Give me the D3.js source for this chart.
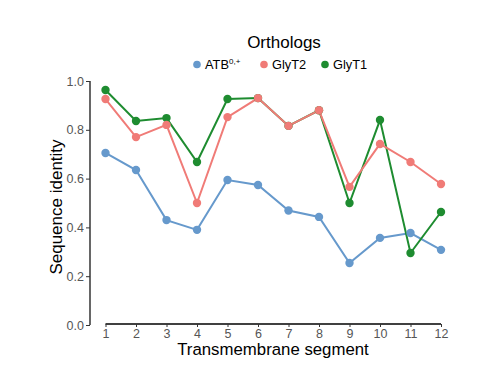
<!DOCTYPE html>
<html>
<head>
<meta charset="utf-8">
<script src="https://cdn.jsdelivr.net/npm/d3@7"></script>
<style>
body{margin:0;background:#fff;}
svg{display:block;font-family:"Liberation Sans",Arial,sans-serif;}
</style>
</head>
<body>
<svg id="chart" width="500" height="366"></svg>
<script>
const segments = [1,2,3,4,5,6,7,8,9,10,11,12];
const atb   = [0.705,0.635,0.43,0.39,0.594,0.574,0.469,0.443,0.254,0.357,0.377,0.308];
const glyt2 = [0.926,0.77,0.82,0.5,0.852,0.93,0.816,0.88,0.566,0.742,0.668,0.578];
const glyt1 = [0.963,0.836,0.848,0.668,0.926,0.93,0.816,0.88,0.5,0.84,0.295,0.463];
const yTicks = [0.0,0.2,0.4,0.6,0.8,1.0];
const seriesNames = ["ATB", "GlyT2", "GlyT1"];
const colors = {ATB:"#6699CC", GlyT2:"#F07B77", GlyT1:"#1E8C30"};

const series = [
  {name:"ATB", values:atb},
  {name:"GlyT2", values:glyt2},
  {name:"GlyT1", values:glyt1}
];

const svg = d3.select("#chart");
const x = d3.scaleLinear().domain([1,12]).range([105.5,441]);
const y = d3.scaleLinear().domain([0,1]).range([325,81]);

// y axis
const yAxis = d3.axisLeft(y).tickValues(yTicks).tickFormat(d3.format(".1f")).tickSize(4).tickPadding(2);
const gy = svg.append("g").attr("transform","translate(90,0)").call(yAxis);
gy.select(".domain").attr("d", `M0,${y(1)}V${y(0)}`).attr("stroke","#000").attr("stroke-width",1.2);
gy.selectAll(".tick line").attr("stroke","#333");
gy.selectAll(".tick text").attr("fill","#555").style("font-size","12.5px");

// x axis
const xAxis = d3.axisBottom(x).tickValues(segments).tickSize(3).tickPadding(2);
const gx = svg.append("g").attr("transform","translate(0,324)").call(xAxis);
gx.select(".domain").attr("d", `M${x(1)},0H${x(12)}`).attr("stroke","#000").attr("stroke-width",1.5);
gx.selectAll(".tick line").attr("stroke","#333");
gx.selectAll(".tick text").attr("fill","#555").style("font-size","12.5px");

// lines (green beneath red)
const line = d3.line().x((d,i)=>x(segments[i])).y(d=>y(d));
const lineOrder = [series[0], series[2], series[1]];
svg.append("g").selectAll("path").data(lineOrder).join("path")
  .attr("d", d=>line(d.values))
  .attr("fill","none")
  .attr("stroke", d=>colors[d.name])
  .attr("stroke-width",2);

// points (red on top)
const pointOrder = [series[2], series[0], series[1]];
pointOrder.forEach(s=>{
  svg.append("g").selectAll("circle").data(s.values).join("circle")
    .attr("cx",(d,i)=>x(segments[i]))
    .attr("cy",d=>y(d))
    .attr("r",4.2)
    .attr("fill",colors[s.name]);
});

// axis titles
svg.append("text").attr("x",273).attr("y",355).attr("text-anchor","middle")
  .style("font-size","16.8px").attr("fill","#000").text("Transmembrane segment");
svg.append("text").attr("transform","translate(62,207) rotate(-90)").attr("text-anchor","middle")
  .style("font-size","17px").attr("fill","#000").text("Sequence identity");

// legend
svg.append("text").attr("x",284).attr("y",48).attr("text-anchor","middle")
  .style("font-size","17px").attr("fill","#000").text("Orthologs");
const legendX = [197, 264, 325];
const lg = svg.append("g");
series.forEach((s,i)=>{
  lg.append("circle").attr("cx",legendX[i]).attr("cy",64.5).attr("r",3.8).attr("fill",colors[s.name]);
  const t = lg.append("text").attr("x",legendX[i]+8).attr("y",69).style("font-size","12.8px").attr("fill","#000");
  if(s.name==="ATB"){
    t.append("tspan").text("ATB");
    t.append("tspan").attr("dy",-5).style("font-size","8px").text("0,+");
  } else {
    t.text(s.name);
  }
});
</script>
</body>
</html>
